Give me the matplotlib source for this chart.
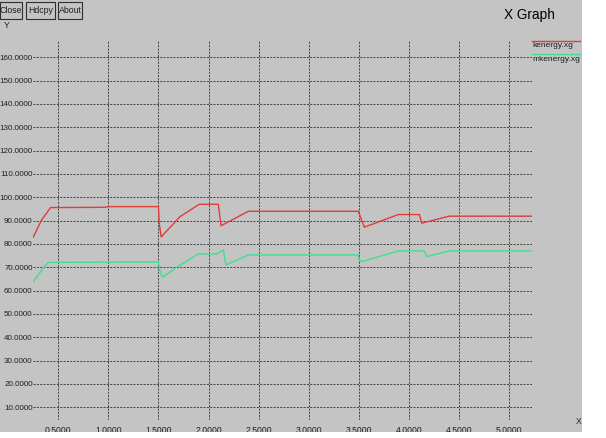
import matplotlib
matplotlib.use("Agg")
import matplotlib.pyplot as plt
from matplotlib.patches import Rectangle

# kenergy.xg (red)
ken_x = [0.25, 0.334, 0.424, 0.966, 1.0, 1.50, 1.507, 1.527, 1.715, 1.907, 2.097,
         2.124, 2.396, 3.494, 3.554, 3.893, 4.103, 4.127, 4.40, 5.225]
ken_y = [82.9, 90.3, 95.6, 95.7, 96.0, 96.0, 89.0, 83.0, 91.7, 97.0, 97.0,
         87.8, 94.0, 94.0, 87.2, 92.6, 92.6, 88.9, 91.9, 91.9]

# mkenergy.xg (green)
mken_x = [0.25, 0.35, 0.40, 1.50, 1.51, 1.542, 1.68, 1.897, 2.08, 2.147, 2.174,
          2.396, 3.494, 3.50, 3.528, 3.893, 4.153, 4.177, 4.40, 5.225]
mken_y = [63.8, 69.6, 72.1, 72.3, 69.0, 65.7, 70.0, 75.7, 75.7, 77.4, 71.0,
          75.3, 75.3, 73.5, 72.4, 77.0, 77.0, 74.6, 77.0, 77.0]

y_ticks = [10, 20, 30, 40, 50, 60, 70, 80, 90, 100, 110, 120, 130, 140, 150, 160]
x_ticks = [0.5, 1.0, 1.5, 2.0, 2.5, 3.0, 3.5, 4.0, 4.5, 5.0]

W, H = 606, 438
GRAY = "#c4c4c4"
FONT = "Liberation Sans"

fig = plt.figure(figsize=(W / 100, H / 100), dpi=100, facecolor=GRAY)


def px(x, y):
    # pixel coords (top-left origin) -> figure fraction
    return x / W, 1 - y / H


l, t, r, b = 33, 40, 532, 420
ax = fig.add_axes([l / W, (H - b) / H, (r - l) / W, (b - t) / H], facecolor=GRAY)
ax.plot(ken_x, ken_y, color="#e03c3a", lw=1.0)
ax.plot(mken_x, mken_y, color="#3ee08e", lw=1.0)
ax.set_xlim(0.248, 5.227)
ax.set_ylim(4.56, 167.4)
ax.set_xticks(x_ticks)
ax.set_yticks(y_ticks)
ax.set_xticklabels(["%.4f" % v for v in x_ticks])
ax.set_yticklabels(["%.4f" % v for v in y_ticks])
for s in ax.spines.values():
    s.set_visible(False)
ax.tick_params(length=0, colors="#202020")
ax.tick_params(axis="y", pad=0.2, labelsize=5.8)
ax.tick_params(axis="x", pad=4.3, labelsize=6.2)
for lab in ax.get_xticklabels() + ax.get_yticklabels():
    lab.set_family(FONT)
ax.grid(True, color="#303030", lw=0.6, ls=(0, (2.5, 1.5)))
ax.set_axisbelow(True)

# buttons
for x0, x1, name in [(0, 22, "Close"), (26, 55, "Hdcpy"), (58, 82, "About")]:
    fx, fy = px(x0, 18.5)
    fig.add_artist(Rectangle((fx, fy), (x1 - x0) / W, 16.5 / H, transform=fig.transFigure,
                             fc=GRAY, ec="#303030", lw=0.8))
    cx, cy = px((x0 + x1) / 2, 10.5)
    fig.text(cx, cy, name, ha="center", va="center", fontsize=6.3, family=FONT, color="#202020")

fig.text(*px(4, 26), "Y", ha="left", va="center", fontsize=6.2, family=FONT, color="#202020")
fig.text(*px(579, 421), "X", ha="center", va="center", fontsize=6.2, family=FONT, color="#202020")
fig.text(*px(529, 15.5), "X Graph", ha="center", va="center", fontsize=9.8, family=FONT, color="black")

# legend
for y_line, color, name in [(40.7, "#e03c3a", "kenergy.xg"), (54.3, "#3ee08e", "mkenergy.xg")]:
    x0, y0 = px(532, y_line)
    x1, _ = px(580, y_line)
    fig.add_artist(plt.Line2D([x0, x1], [y0, y0], color=color, lw=1.0, transform=fig.transFigure))
    fig.text(*px(532, y_line + 5), name, ha="left", va="center", fontsize=6.0, family=FONT, color="#202020")

# white margins outside the window
fig.add_artist(Rectangle(px(582, H), (W - 582) / W, 1, transform=fig.transFigure,
                         fc="white", ec="none", zorder=20))
fig.add_artist(Rectangle(px(0, H), 1, (H - 432) / H, transform=fig.transFigure,
                         fc="white", ec="none", zorder=20))

fig.savefig("out.png", dpi=100, facecolor=GRAY)
